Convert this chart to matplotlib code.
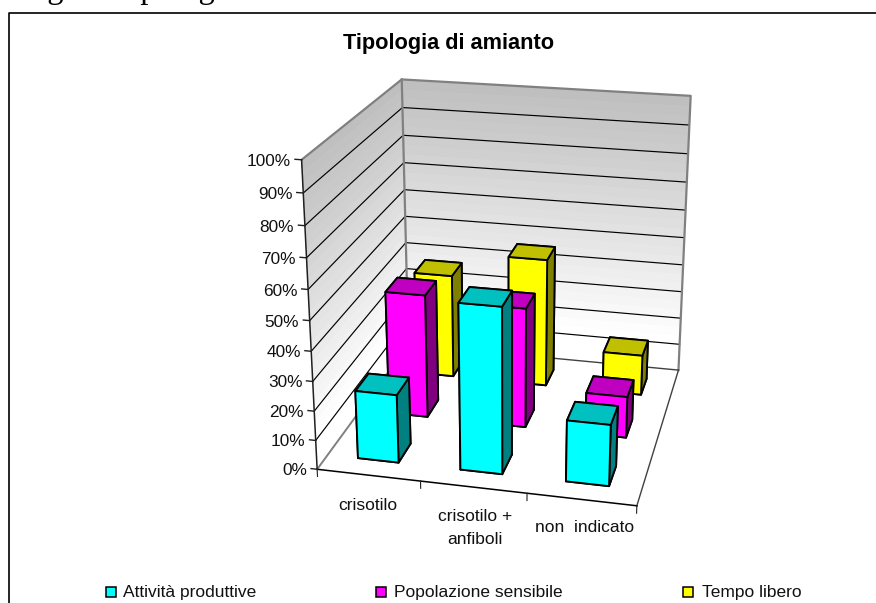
import numpy as np
import matplotlib
matplotlib.use('Agg')
import matplotlib.pyplot as plt
from matplotlib.lines import Line2D
from matplotlib.patches import Rectangle
from mpl_toolkits.mplot3d import proj3d

W, H = 876, 603

categories = ['crisotilo', 'crisotilo +\nanfiboli', 'non  indicato']
series = ['Attività produttive', 'Popolazione sensibile', 'Tempo libero']
attivita = [23.3, 55.8, 20.7]
popolazione = [43.5, 42, 14.5]
tempo = [37.8, 46.5, 14.6]
z_ticks = [0, 10, 20, 30, 40, 50, 60, 70, 80, 90, 100]

plt.rcParams['font.family'] = ['Liberation Sans', 'DejaVu Sans']

fig = plt.figure(figsize=(W / 100, H / 100), dpi=100, facecolor='white')
ax = fig.add_axes([0, 0, 1, 1], projection='3d')
ax.set_xlim(0, 3, view_margin=0)
ax.set_ylim(0, 3, view_margin=0)
ax.set_zlim(0, 100, view_margin=0)

# camera fitted against the floor and wall corners of the reference
ax.view_init(21.0524, -77.022, -0.0561)
ax.set_proj_type('persp', focal_length=0.5401)
ax.set_box_aspect((1.0005, 0.9916, 1))
k, ox, oy = 2821.3, 510.26, 326.78
xl, xr = ax.viewLim.intervalx
yl, yr = ax.viewLim.intervaly
S = k * (xr - xl)
ax.set_position([(ox + k * xl) / W, (oy + k * yl) / H, S / W, S / H])
ax.set_axis_off()
ax.patch.set_visible(False)
ax.computed_zorder = False

# walls
zz = np.linspace(0, 100, 61)
shade = np.minimum(1, 0.74 + 0.26 * (100 - zz[:-1]) / 90)
cols = np.c_[shade, shade, shade, np.ones_like(shade)][:, None, :]
X, Zb = np.meshgrid([0, 3], zz)
ax.plot_surface(X, np.full_like(X, 3.), Zb, facecolors=cols, rcount=60, ccount=1, shade=False, linewidth=0, antialiased=False, zorder=1)
ax.plot_surface(np.zeros_like(X), X, Zb, facecolors=cols, rcount=60, ccount=1, shade=False, linewidth=0, antialiased=False, zorder=1)

for z in z_ticks[1:-1]:
    ax.plot([0, 0, 3], [0, 3, 3], [z, z, z], color='black', lw=0.85, zorder=2)
ax.plot([0, 0, 3, 3], [0, 3, 3, 3], [100, 100, 100, 0], color='#808080', lw=1.6, zorder=2)
ax.plot([0, 0], [3, 3], [0, 100], color='#808080', lw=1.6, zorder=2)
ax.plot([0, 0], [0, 3], [0, 0], color='#808080', lw=1.4, zorder=2)
ax.plot([0, 3], [3, 3], [0, 0], color='#404040', lw=1, zorder=2)
ax.plot([3, 3], [0, 3], [0, 0], color='#404040', lw=1, zorder=2)
ax.plot([0, 3], [0, 0], [0, 0], color='black', lw=1.1, zorder=2)
ax.plot([0, 0], [0, 0], [0, 100], color='#202020', lw=1.1, zorder=2)

M = ax.get_proj()
for z in z_ticks:
    ax.plot([-.06, 0], [0, 0], [z, z], color='#202020', lw=1, zorder=2)
    tx, ty, _ = proj3d.proj_transform(-.10, 0, z - 0.8, M)
    ax.text2D(tx, ty, f'{z}%', transform=ax.transData, ha='right', va='center', fontsize=12.4, color='#111111')
for i in range(4):
    ax.plot([i, i], [0, 0], [0, -2.5], color='#202020', lw=.8, zorder=2)

palette = [
    ('#00FFFF', '#00C0C0', '#008080'),
    ('#FF00FF', '#C000C0', '#800080'),
    ('#FFFF00', '#C0C000', '#808000'),
]
rows = [attivita, popolazione, tempo]
zo = 3
for r in (2, 1, 0):
    front, top, side = palette[r]
    for c in range(3):
        ax.bar3d(c + .3, r + .3, 0, .4, .4, rows[r][c],
                 color=[side, top, front, side, side, side],
                 shade=False, edgecolor='black', linewidth=1.35, zorder=zo)
        zo += 1


def fx(x):
    return x / W


def fy(y):
    return 1 - y / H


fig.add_artist(Line2D([fx(9), fx(9), 1], [0, fy(13), fy(13)], color='black', lw=1.2))
fig.text(fx(20), fy(-2), 'Figura Tipologia', fontsize=23.5, family='Liberation Serif', va='baseline')
fig.text(fx(449), fy(43), 'Tipologia di amianto', fontsize=15.7, fontweight='bold', ha='center', va='center')
lab_x = [368, 475, 585]
lab_y = [505, 528, 528]
for name, x, y in zip(categories, lab_x, lab_y):
    fig.text(fx(x), fy(y), name, fontsize=12.5, ha='center', va='center', linespacing=1.7, color='#111111')
sq_x = [106, 376, 683]
leg_x = [123, 394, 702]
for name, x, tx, (front, _, _) in zip(series, sq_x, leg_x, palette):
    fig.add_artist(Rectangle((fx(x), fy(597)), 10 / W, 10 / H, facecolor=front, edgecolor='black', lw=1.1))
    fig.text(fx(tx), fy(592), name, fontsize=12.5, va='center', color='#111111')

fig.savefig('out.png', dpi=100)
